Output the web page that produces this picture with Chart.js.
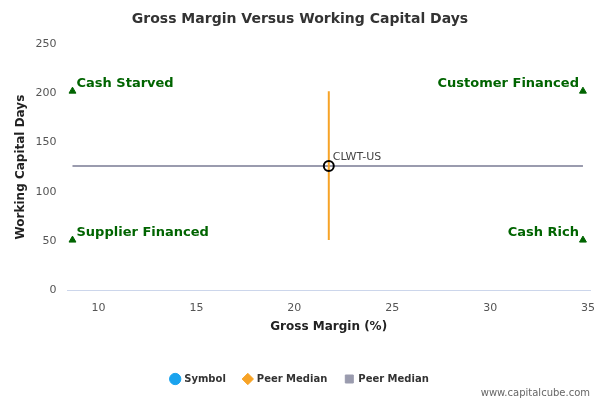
<!DOCTYPE html>
<html><head><meta charset="utf-8">
<script src="https://cdn.jsdelivr.net/npm/chart.js@4/dist/chart.umd.min.js"></script>
<style>html,body{margin:0;padding:0;background:#fff}#w{width:600px;height:400px;position:relative}</style>
</head><body><div id="w"><canvas id="c"></canvas></div>
<script>
const xTicks=[10,15,20,25,30,35];
const yTicks=[0,50,100,150,200,250];
const symbolPoint=[{x:21.76,y:126}];
const symbolLabel="CLWT-US";
const peerMedianVertical=[{x:21.76,y:51},{x:21.76,y:202}];
const peerMedianHorizontal=[{x:8.67,y:126},{x:34.74,y:126}];
const quadrantPoints=[{x:8.67,y:202},{x:34.74,y:202},{x:8.67,y:51},{x:34.74,y:51}];
const quadrantLabels=["Cash Starved","Customer Financed","Supplier Financed","Cash Rich"];

const labelPlugin={id:'lbl',afterDatasetsDraw(ch){
  const c=ch.ctx,xs=ch.scales.x,ys=ch.scales.y;
  c.save();
  c.font='bold 13px "DejaVu Sans"';c.fillStyle='#006400';c.textBaseline='bottom';
  quadrantPoints.forEach((p,i)=>{
    const px=xs.getPixelForValue(p.x),py=ys.getPixelForValue(p.y);
    if(i%2===0){c.textAlign='left';c.fillText(quadrantLabels[i],px+4,py-1);}
    else{c.textAlign='right';c.fillText(quadrantLabels[i],px-4,py-1);}
  });
  const p=symbolPoint[0];
  c.font='11px "DejaVu Sans"';c.fillStyle='#444';c.textAlign='left';
  c.fillText(symbolLabel,xs.getPixelForValue(p.x)+4,ys.getPixelForValue(p.y)-3);
  c.font='10px "DejaVu Sans"';c.fillStyle='#666';c.textAlign='right';c.textBaseline='alphabetic';
  c.fillText('www.capitalcube.com',590,396);
  c.restore();
}};

new Chart(document.getElementById('c'),{
 type:'scatter',
 data:{datasets:[
  {label:'Symbol',data:symbolPoint,pointRadius:5,pointBorderWidth:2,pointBorderColor:'#000',pointBackgroundColor:'rgba(0,0,0,0)',backgroundColor:'#1aa3ee',borderColor:'#1aa3ee',order:0},
  {label:'Peer Median',data:peerMedianVertical,showLine:true,borderColor:'#f7a326',backgroundColor:'#f7a326',borderWidth:2,pointRadius:0,pointStyle:'rectRot',order:1},
  {label:'Peer Median',data:peerMedianHorizontal,showLine:true,borderColor:'#9a9bae',backgroundColor:'#9a9bae',borderWidth:2,pointRadius:0,pointStyle:'rect',order:2},
  {label:'',data:quadrantPoints,pointStyle:'triangle',pointRadius:4,backgroundColor:'#006400',borderColor:'#006400',order:3}
 ]},
 options:{responsive:true,maintainAspectRatio:false,animation:false,
  layout:{padding:{left:10,right:10,top:8,bottom:6}},
  plugins:{
   title:{display:true,text:'Gross Margin Versus Working Capital Days',font:{family:'DejaVu Sans',size:14,weight:'bold'},color:'#333',padding:{top:3,bottom:16}},
   legend:{position:'bottom',labels:{usePointStyle:true,boxWidth:8,boxHeight:8,font:{family:'DejaVu Sans',size:10,weight:'bold'},color:'#333',padding:18,
     generateLabels:(ch)=>{
       const items=Chart.defaults.plugins.legend.labels.generateLabels(ch).filter(it=>it.text!=='');
       items.forEach(it=>{const ds=ch.data.datasets[it.datasetIndex];it.fillStyle=ds.backgroundColor;it.strokeStyle=ds.backgroundColor;it.lineWidth=1;
         it.pointStyle=it.datasetIndex===0?'circle':ds.pointStyle;});
       return items;}}},
   tooltip:{enabled:false}},
  scales:{
   x:{type:'linear',min:8.41,max:35.1,afterBuildTicks:a=>{a.ticks=xTicks.map(v=>({value:v}))},
      grid:{display:false},border:{color:'#ccd6eb'},ticks:{color:'#555',font:{family:'DejaVu Sans',size:11}},
      title:{display:true,text:'Gross Margin (%)',font:{family:'DejaVu Sans',size:12,weight:'bold'},color:'#222',padding:{top:2,bottom:22}}},
   y:{min:0,max:250,afterBuildTicks:a=>{a.ticks=yTicks.map(v=>({value:v}))},
      grid:{display:false},border:{display:false},ticks:{color:'#555',font:{family:'DejaVu Sans',size:11}},
      title:{display:true,text:'Working Capital Days',font:{family:'DejaVu Sans',size:12,weight:'bold'},color:'#222'}}
  }},
 plugins:[labelPlugin]
});
</script></body></html>
